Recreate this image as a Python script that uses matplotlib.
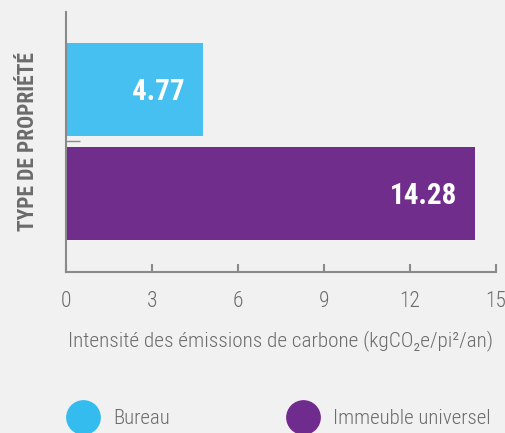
import matplotlib
matplotlib.use("Agg")
import matplotlib.pyplot as plt
from matplotlib import font_manager

# données
categories = ["Bureau", "Immeuble universel"]
valeurs = [4.77, 14.28]
couleurs = ["#45c0f0", "#702d8c"]
legende_couleurs = ["#33bced", "#702b8f"]
xticks = [0, 3, 6, 9, 12, 15]

BG = "#f1f1f1"
GRIS = "#6b6b6b"

noms = {f.name for f in font_manager.fontManager.ttflist}
cond = [n for n in ["Liberation Sans Narrow", "Roboto Condensed", "Open Sans Condensed"] if n in noms]
FAM = cond[:1] + ["DejaVu Sans"]
plt.rcParams["font.family"] = FAM

fig = plt.figure(figsize=(5.05, 4.33), dpi=100, facecolor=BG)
ax = fig.add_axes([66/505, 1 - 271.5/433, 430/505, 259.5/433])
ax.set_facecolor(BG)

ypos = [1, 0]
bars = ax.barh(ypos, valeurs, height=0.894, color=couleurs)
for bar, v in zip(bars, valeurs):
    ax.annotate(f"{v:.2f}", (bar.get_width(), bar.get_y() + bar.get_height()/2),
                xytext=(-13, -2), textcoords="offset points",
                ha="right", va="center", color="white", fontsize=21, fontweight="bold")

ax.set_xlim(0, 15)
ax.set_ylim(-0.75, 1.745)
ax.set_xticks(xticks)
ax.set_xticklabels([str(t) for t in xticks], fontweight="light")
ax.set_yticks([0.5])
ax.set_yticklabels([""])
ax.tick_params(axis="x", direction="in", length=6, width=1.5, color="#8a8a8a",
               pad=14, labelsize=15.5, labelcolor=GRIS)
ax.tick_params(axis="y", direction="in", length=10, width=1, color="#8a8a8a")
for s in ["top", "right"]:
    ax.spines[s].set_visible(False)
for s in ["left", "bottom"]:
    ax.spines[s].set_color("#8a8a8a")
    ax.spines[s].set_linewidth(1.5)

ax.set_xlabel("Intensité des émissions de carbone (kgCO₂e/pi²/an)",
              fontsize=15.3, color=GRIS, labelpad=13, fontweight="light")
ax.set_ylabel("TYPE DE PROPRIÉTÉ", fontsize=15.5, fontweight="bold", color=GRIS, labelpad=16)

# légende
lax = fig.add_axes([0, 0, 1, 1])
lax.set_xlim(0, 505)
lax.set_ylim(433, 0)
lax.axis("off")
lx = [83, 303]
for x, c, lab in zip(lx, legende_couleurs, categories):
    lax.scatter([x], [417], s=24**2, color=c, clip_on=False)
    lax.text(x + 30, 418, lab, fontsize=15, color=GRIS, va="center", ha="left",
             fontweight="light")

fig.savefig("out.png", dpi=100, facecolor=BG)
